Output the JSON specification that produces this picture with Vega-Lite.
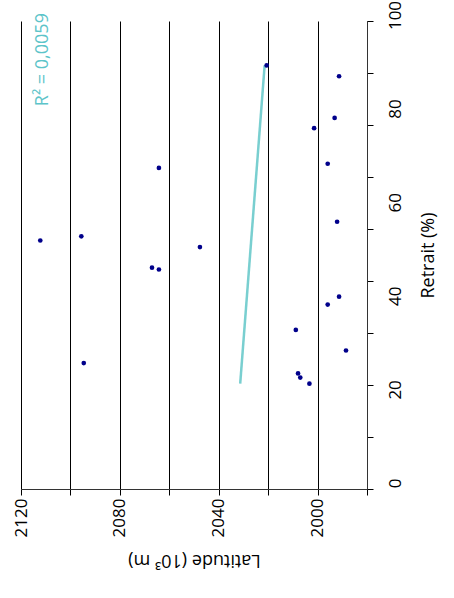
{
  "$schema": "https://vega.github.io/schema/vega-lite/v6.json",
  "width": 346,
  "height": 468,
  "autosize": {"type": "none"},
  "padding": {"left": 21, "top": 21, "right": 87, "bottom": 109},
  "background": "white",
  "config": {
    "view": {"stroke": null},
    "font": "Open Sans",
    "axis": {
      "labelFont": "Open Sans",
      "titleFont": "Open Sans",
      "labelColor": "#000",
      "titleColor": "#000",
      "titleFontWeight": "normal",
      "labelFontSize": 17,
      "titleFontSize": 18,
      "tickColor": "#000",
      "domainColor": "#333"
    }
  },
  "datasets": {
    "points": [
      {"Latitude": 2112.2, "Retrait": 53.1},
      {"Latitude": 2095.6, "Retrait": 54.0},
      {"Latitude": 2094.6, "Retrait": 26.9},
      {"Latitude": 2067.0, "Retrait": 47.3},
      {"Latitude": 2064.2, "Retrait": 46.9},
      {"Latitude": 2064.2, "Retrait": 68.6},
      {"Latitude": 2047.6, "Retrait": 51.7},
      {"Latitude": 2020.6, "Retrait": 90.5},
      {"Latitude": 2008.8, "Retrait": 34.0},
      {"Latitude": 2007.9, "Retrait": 24.7},
      {"Latitude": 2007.0, "Retrait": 23.8},
      {"Latitude": 2003.3, "Retrait": 22.5},
      {"Latitude": 2001.4, "Retrait": 77.1},
      {"Latitude": 1995.9, "Retrait": 69.5},
      {"Latitude": 1995.9, "Retrait": 39.4},
      {"Latitude": 1993.1, "Retrait": 79.3},
      {"Latitude": 1992.1, "Retrait": 57.1},
      {"Latitude": 1991.3, "Retrait": 41.1},
      {"Latitude": 1991.3, "Retrait": 88.2},
      {"Latitude": 1988.5, "Retrait": 29.6}
    ]
  },
  "data": {"name": "points"},
  "layer": [
    {
      "transform": [{"regression": "Latitude", "on": "Retrait"}],
      "mark": {"type": "line", "color": "#79cfd0", "strokeWidth": 2.5},
      "encoding": {
        "x": {"field": "Latitude", "type": "quantitative"},
        "y": {
          "field": "Retrait",
          "type": "quantitative",
          "axis": {
            "orient": "right",
            "values": [0, 11.111, 22.222, 33.333, 44.444, 55.556, 66.667, 77.778, 88.889, 100],
            "labels": false,
            "title": null,
            "domain": false,
            "grid": false,
            "ticks": true,
            "tickSize": 6
          }
        }
      }
    },
    {
      "mark": {"type": "circle", "size": 22, "color": "#00008b", "opacity": 1},
      "encoding": {
        "x": {
          "field": "Latitude",
          "type": "quantitative",
          "scale": {"domain": [1980, 2120], "reverse": true, "nice": false, "zero": false},
          "axis": {
            "orient": "bottom",
            "title": "Latitude (10³ m)",
            "values": [1980, 2000, 2020, 2040, 2060, 2080, 2100, 2120],
            "format": "d",
            "labelExpr": "datum.value % 40 === 0 ? datum.label : ''",
            "labelAngle": 270,
            "grid": true,
            "gridColor": "#000",
            "gridOpacity": 1,
            "tickSize": 6,
            "labelPadding": 3,
            "titleAngle": 180,
            "titleBaseline": "bottom",
            "titlePadding": 14
          }
        },
        "y": {
          "field": "Retrait",
          "type": "quantitative",
          "scale": {"domain": [0, 100], "nice": false},
          "axis": {
            "orient": "right",
            "title": "Retrait (%)",
            "values": [0, 20, 40, 60, 80, 100],
            "labelAngle": 270,
            "labelAlign": "center",
            "labelBaseline": "top",
            "ticks": true,
            "tickOpacity": 0,
            "tickSize": 6,
            "labelPadding": 14,
            "labelOffset": -6,
            "grid": false,
            "domain": true,
            "titleAngle": 270,
            "titleBaseline": "top",
            "titlePadding": 16
          }
        }
      }
    },
    {
      "data": {"values": [{"label": "R² = 0,0059"}]},
      "mark": {"type": "text", "angle": 270, "align": "right", "baseline": "middle", "fontSize": 18, "font": "Open Sans", "color": "#5cc4c9"},
      "encoding": {
        "x": {"datum": 2111, "type": "quantitative"},
        "y": {"datum": 101.7, "type": "quantitative", "axis": null},
        "text": {"field": "label"}
      }
    }
  ],
  "resolve": {"axis": {"y": "independent"}}
}
